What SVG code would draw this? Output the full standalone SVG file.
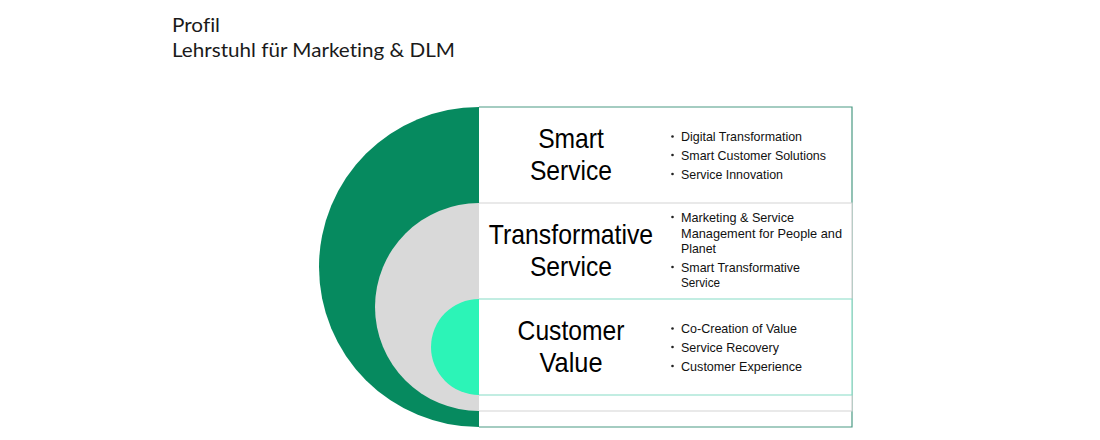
<svg xmlns="http://www.w3.org/2000/svg" width="1100" height="440" viewBox="0 0 1100 440">
  <style>
    .title { font-family: "Lato", "Open Sans", sans-serif; font-size: 20px; fill: #1a1a1a; font-variant-ligatures: none; }
    .head { font-family: "Liberation Sans", Arial, sans-serif; font-size: 28px; fill: #000; text-anchor: middle; }
    .item { font-family: "Liberation Sans", Arial, sans-serif; font-size: 13px; fill: #111; }
    .dot { fill: #222; }
    .box { fill: #fff; }
  </style>
  <rect width="1100" height="440" fill="#fff"/>

  <g id="title">
    <text class="title" x="172" y="32" textLength="48" lengthAdjust="spacingAndGlyphs">Profil</text>
    <text class="title" x="172" y="57" textLength="283" lengthAdjust="spacingAndGlyphs">Lehrstuhl für Marketing &amp; DLM</text>
  </g>

  <g id="smart-service">
    <path d="M479,107 A160,160 0 0,0 479,427 Z" fill="#068a5f"/>
    <path class="box" d="M479,107 H852 V427 H479 Z"/>
    <path d="M479,107 H852 V427 H479" fill="none" stroke="#4a9a83" stroke-width="1.2"/>
    <text class="head" x="571" y="148" textLength="65.7" lengthAdjust="spacingAndGlyphs">Smart</text>
    <text class="head" x="571" y="180" textLength="82.2" lengthAdjust="spacingAndGlyphs">Service</text>
    <circle class="dot" cx="672.5" cy="136.5" r="1.3"/>
    <text class="item" x="681" y="141" textLength="121" lengthAdjust="spacingAndGlyphs">Digital Transformation</text>
    <circle class="dot" cx="672.5" cy="155" r="1.3"/>
    <text class="item" x="681" y="159.5" textLength="145" lengthAdjust="spacingAndGlyphs">Smart Customer Solutions</text>
    <circle class="dot" cx="672.5" cy="174" r="1.3"/>
    <text class="item" x="681" y="178.5" textLength="102" lengthAdjust="spacingAndGlyphs">Service Innovation</text>
  </g>

  <g id="transformative-service">
    <path d="M479,203 A104,104 0 0,0 479,411 Z" fill="#d9d9d9"/>
    <path class="box" d="M479,203 H852 V411 H479 Z"/>
    <path d="M479,203 H852 V411 H479" fill="none" stroke="#d3d3d3" stroke-width="1.2"/>
    <text class="head" x="571" y="244" textLength="164.3" lengthAdjust="spacingAndGlyphs">Transformative</text>
    <text class="head" x="571" y="276" textLength="82.2" lengthAdjust="spacingAndGlyphs">Service</text>
    <circle class="dot" cx="672.5" cy="217" r="1.3"/>
    <text class="item" x="681" y="221.5" textLength="113" lengthAdjust="spacingAndGlyphs">Marketing &amp; Service</text>
    <text class="item" x="681" y="237.5" textLength="161" lengthAdjust="spacingAndGlyphs">Management for People and</text>
    <text class="item" x="681" y="252.5" textLength="35" lengthAdjust="spacingAndGlyphs">Planet</text>
    <circle class="dot" cx="672.5" cy="267" r="1.3"/>
    <text class="item" x="681" y="271.5" textLength="119" lengthAdjust="spacingAndGlyphs">Smart Transformative</text>
    <text class="item" x="681" y="287" textLength="39" lengthAdjust="spacingAndGlyphs">Service</text>
  </g>

  <g id="customer-value">
    <path d="M479,299 A48,48 0 0,0 479,395 Z" fill="#2cf4b7"/>
    <path class="box" d="M479,299 H852 V395 H479 Z"/>
    <path d="M479,299 H852 V395 H479" fill="none" stroke="#86dcc5" stroke-width="1.2"/>
    <text class="head" x="571" y="340" textLength="106.8" lengthAdjust="spacingAndGlyphs">Customer</text>
    <text class="head" x="571" y="372" textLength="63" lengthAdjust="spacingAndGlyphs">Value</text>
    <circle class="dot" cx="672.5" cy="328.5" r="1.3"/>
    <text class="item" x="681" y="333" textLength="116" lengthAdjust="spacingAndGlyphs">Co-Creation of Value</text>
    <circle class="dot" cx="672.5" cy="347" r="1.3"/>
    <text class="item" x="681" y="351.5" textLength="98" lengthAdjust="spacingAndGlyphs">Service Recovery</text>
    <circle class="dot" cx="672.5" cy="366" r="1.3"/>
    <text class="item" x="681" y="370.5" textLength="121" lengthAdjust="spacingAndGlyphs">Customer Experience</text>
  </g>
</svg>
